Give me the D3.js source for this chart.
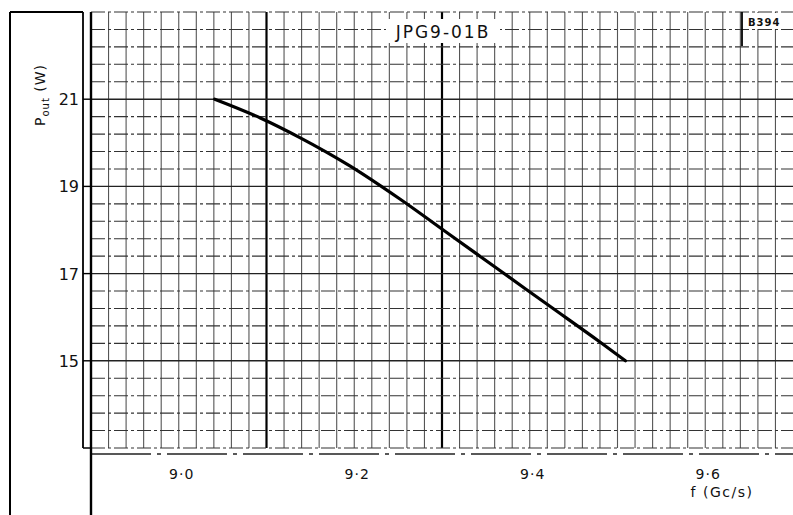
<!DOCTYPE html>
<html><head><meta charset="utf-8">
<script src="https://cdn.jsdelivr.net/npm/d3@7"></script>
<style>
html,body{margin:0;padding:0;background:#fff;}
svg{display:block;}
text{font-family:"DejaVu Sans","Liberation Sans",sans-serif;fill:#111;}
</style></head>
<body>
<script>
// ---- data ----
const freq  = [9.041, 9.093, 9.138, 9.195, 9.252, 9.309, 9.366, 9.423, 9.480, 9.509];
const power = [21.0, 20.57, 20.12, 19.47, 18.71, 17.89, 17.07, 16.25, 15.43, 15.0];
const xTickLabels = ["9·0", "9·2", "9·4", "9·6"];
const xTickValues = [9.0, 9.2, 9.4, 9.6];
const yTickValues = [15, 17, 19, 21];
const title = "JPG9-01B";
const code = "B394";
const xTitle = "f (Gc/s)";

const W = 793, H = 515;
const svg = d3.select("body").append("svg").attr("width", W).attr("height", H);

const x = d3.scaleLinear().domain([8.9, 9.7]).range([91, 793]);
const y = d3.scaleLinear().domain([13, 23]).range([448, 12]);

const g = svg.append("g");
const isThick = d => Math.abs(d - 9.1) < 1e-6 || Math.abs(d - 9.3) < 1e-6;

// vertical grid lines every 0.02
const vLines = d3.range(1, 40).map(i => +(8.9 + i * 0.02).toFixed(2));
g.selectAll("line.v").data(vLines).join("line")
  .attr("x1", d => x(d)).attr("x2", d => x(d))
  .attr("y1", y(23)).attr("y2", y(13))
  .attr("stroke", d => isThick(d) ? "#000" : "#555")
  .attr("stroke-width", d => isThick(d) ? 2.2 : 1.1);

// horizontal grid lines every 0.4
const hLines = d3.range(0, 26).map(i => +(13 + i * 0.4).toFixed(1));
const isMajor = d => yTickValues.some(t => Math.abs(t - d) < 1e-6);
g.selectAll("line.h").data(hLines).join("line")
  .attr("x1", x(8.9)).attr("x2", W)
  .attr("y1", d => y(d)).attr("y2", d => y(d))
  .attr("stroke", d => isMajor(d) ? "#222" : "#333")
  .attr("stroke-width", d => isMajor(d) ? 1.4 : 1.1)
  .attr("stroke-dasharray", d => isMajor(d) ? null : "14,3,3,3");

// extra bottom line
g.append("line").attr("x1", x(8.9)).attr("x2", W).attr("y1", y(13) + 6).attr("y2", y(13) + 6)
  .attr("stroke", "#222").attr("stroke-width", 1.3).attr("stroke-dasharray", "60,6,4,6");

// left frame / label box
g.append("line").attr("x1", 10).attr("x2", 10).attr("y1", y(23)).attr("y2", H).attr("stroke", "#000").attr("stroke-width", 2);
g.append("line").attr("x1", 83).attr("x2", 83).attr("y1", y(23)).attr("y2", y(13)).attr("stroke", "#000").attr("stroke-width", 1.8);
g.append("line").attr("x1", 10).attr("x2", 83).attr("y1", y(23)).attr("y2", y(23)).attr("stroke", "#000").attr("stroke-width", 1.8);
g.append("line").attr("x1", 83).attr("x2", 91).attr("y1", y(13)).attr("y2", y(13)).attr("stroke", "#000").attr("stroke-width", 1.5);
g.append("line").attr("x1", x(8.9)).attr("x2", x(8.9)).attr("y1", y(23)).attr("y2", H).attr("stroke", "#000").attr("stroke-width", 2.4);

// y ticks and labels
g.selectAll("line.yt").data(yTickValues).join("line")
  .attr("x1", 83).attr("x2", 91).attr("y1", d => y(d)).attr("y2", d => y(d))
  .attr("stroke", "#000").attr("stroke-width", 1.4);
g.selectAll("text.yl").data(yTickValues).join("text")
  .attr("x", 79).attr("y", d => y(d) + 6).attr("text-anchor", "end")
  .attr("font-size", 16).text(d => d);

// x labels
g.selectAll("text.xl").data(xTickValues).join("text")
  .attr("x", d => x(d) + 3).attr("y", 479).attr("text-anchor", "middle")
  .attr("font-size", 14).attr("letter-spacing", 1).text((d, i) => xTickLabels[i]);
g.append("text").attr("x", 722).attr("y", 497).attr("text-anchor", "middle")
  .attr("font-size", 14).attr("letter-spacing", 1.5).text(xTitle);

// y axis title
const yt = g.append("text").attr("transform", "translate(45,95) rotate(-90)")
  .attr("text-anchor", "middle").attr("font-size", 14).attr("letter-spacing", 1);
yt.append("tspan").text("P");
yt.append("tspan").attr("font-size", 10).attr("dy", 4).text("out");
yt.append("tspan").attr("dy", -4).text(" (W)");

// title
svg.append("rect").attr("x", 386).attr("y", 19).attr("width", 114).attr("height", 24).attr("fill", "#fff");
svg.append("text").attr("x", 443).attr("y", 38).attr("text-anchor", "middle")
  .attr("font-size", 17).attr("letter-spacing", 2).text(title);

// code box
svg.append("rect").attr("x", 744).attr("y", 13).attr("width", 49).attr("height", 16).attr("fill", "#fff");
svg.append("line").attr("x1", 742).attr("x2", 742).attr("y1", 12).attr("y2", 46).attr("stroke", "#000").attr("stroke-width", 1.8);
svg.append("text").attr("x", 748).attr("y", 26).attr("font-size", 10).attr("font-weight", "bold")
  .attr("letter-spacing", 1).text(code);

// curve
const pts = freq.map((f, i) => [f, power[i]]);
svg.append("path").datum(pts)
  .attr("fill", "none").attr("stroke", "#000").attr("stroke-width", 3.2).attr("stroke-linecap", "round")
  .attr("d", d3.line().x(d => x(d[0])).y(d => y(d[1])).curve(d3.curveMonotoneX));
</script>
</body></html>
